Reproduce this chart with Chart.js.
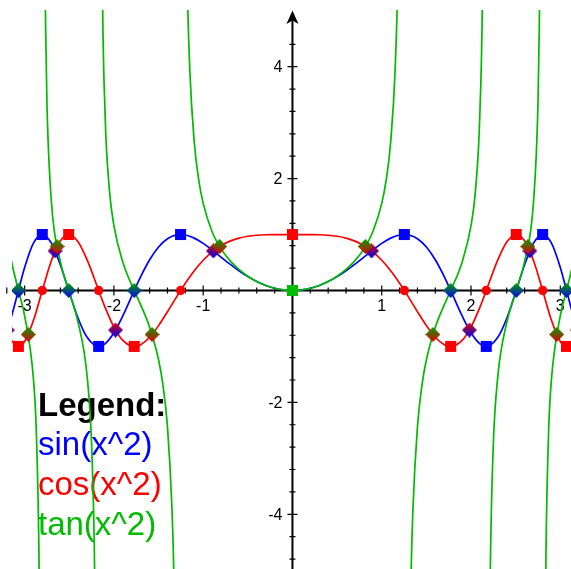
<!DOCTYPE html>
<html>
<head>
<meta charset="utf-8">
<script src="https://cdn.jsdelivr.net/npm/chart.js@4/dist/chart.umd.min.js"></script>
<style>
  html, body { margin: 0; padding: 0; background: #fff; }
  #wrap { width: 571px; height: 569px; }
</style>
</head>
<body>
<div id="wrap"><canvas id="plot" width="571" height="569"></canvas></div>
<script>
// samples shared by sin(x^2) and cos(x^2)
const xs = [
  -3.2, -3.14, -3.07, -3.0, -2.9, -2.8025, -2.7, -2.6, -2.5066, -2.4, -2.3, -2.1708,
  -2.1, -2.0, -1.9, -1.7725, -1.7, -1.6, -1.5, -1.4, -1.3, -1.2533, -1.2, -1.1,
  -1.0, -0.9, -0.8, -0.7, -0.6, -0.5, -0.4, -0.3, -0.2, -0.1, 0,
  0.1, 0.2, 0.3, 0.4, 0.5, 0.6, 0.7, 0.8, 0.9, 1.0,
  1.1, 1.2, 1.2533, 1.3, 1.4, 1.5, 1.6, 1.7, 1.7725, 1.9, 2.0, 2.1,
  2.1708, 2.3, 2.4, 2.5066, 2.6, 2.7, 2.8025, 2.9, 3.0, 3.07, 3.14, 3.2
];
const sinY = [
  -0.7279, -0.4212, 0, 0.4121, 0.8495, 1, 0.8452, 0.459, 0, -0.4998, -0.8378, -1,
  -0.9546, -0.7568, -0.4515, 0, 0.2489, 0.5494, 0.7781, 0.9252, 0.9929, 1, 0.9915, 0.9356,
  0.8415, 0.7243, 0.5972, 0.4706, 0.3523, 0.2474, 0.1593, 0.0899, 0.04, 0.01, 0,
  0.01, 0.04, 0.0899, 0.1593, 0.2474, 0.3523, 0.4706, 0.5972, 0.7243, 0.8415,
  0.9356, 0.9915, 1, 0.9929, 0.9252, 0.7781, 0.5494, 0.2489, 0, -0.4515, -0.7568, -0.9546,
  -1, -0.8378, -0.4998, 0, 0.459, 0.8452, 1, 0.8495, 0.4121, 0, -0.4212, -0.7279
];
const cosY = [
  -0.6857, -0.907, -1, -0.9111, -0.5278, 0, 0.5346, 0.8885, 1, 0.8662, 0.546, 0,
  -0.2978, -0.6536, -0.8923, -1, -0.9685, -0.8356, -0.6282, -0.3795, -0.1189, 0, 0.1304, 0.3531,
  0.5403, 0.6895, 0.8021, 0.8823, 0.9359, 0.9689, 0.9872, 0.996, 0.9992, 1, 1,
  1, 0.9992, 0.996, 0.9872, 0.9689, 0.9359, 0.8823, 0.8021, 0.6895, 0.5403,
  0.3531, 0.1304, 0, -0.1189, -0.3795, -0.6282, -0.8356, -0.9685, -1, -0.8923, -0.6536, -0.2978,
  0, 0.546, 0.8662, 1, 0.8885, 0.5346, 0, -0.5278, -0.9111, -1, -0.907, -0.6857
];

// tan(x^2) samples, null breaks the curve at each asymptote
const tanX = [
  -3.2, -3.16, -3.07, -3.0, -2.9, -2.87, -2.84, -2.83, -2.81,
  -2.78, -2.77, -2.765, -2.75, -2.7, -2.6, -2.5066, -2.4, -2.3, -2.25, -2.22, -2.21, -2.2, -2.19,
  -2.15, -2.13, -2.1, -2.05, -2.0, -1.9, -1.7725, -1.7, -1.6, -1.5, -1.45, -1.4, -1.35, -1.33, -1.3, -1.27,
  -1.2, -1.18, -1.15, -1.1, -1.05, -1.0, -0.9, -0.8, -0.7, -0.6, -0.5, -0.4, -0.3, -0.2, -0.1, 0,
  0.1, 0.2, 0.3, 0.4, 0.5, 0.6, 0.7, 0.8, 0.9, 1.0, 1.05, 1.1, 1.15, 1.18, 1.2,
  1.27, 1.3, 1.33, 1.35, 1.4, 1.45, 1.5, 1.6, 1.7, 1.7725, 1.9, 2.0, 2.05, 2.1, 2.13, 2.15,
  2.19, 2.2, 2.21, 2.22, 2.25, 2.3, 2.4, 2.5066, 2.6, 2.7, 2.75, 2.765, 2.77, 2.78,
  2.81, 2.83, 2.84, 2.87, 2.9, 3.0, 3.07, 3.16, 3.2
];
const tanY = [
  1.0615, 0.6281, 0, -0.4523, -1.6095, -2.483, -4.655, -6.41, null,
  7.92, 5.461, 4.719, 3.332, 1.581, 0.5166, 0, -0.577, -1.5344, -2.739, -4.558, -5.767, -7.79, null,
  11.1, 5.64, 3.2055, 1.788, 1.1578, 0.506, 0, -0.257, -0.6575, -1.2386, -1.7, -2.438, -3.889, -4.982, -8.35, null,
  7.6, 5.546, 3.943, 2.6503, 1.977, 1.5574, 1.0505, 0.7445, 0.5334, 0.3764, 0.2553, 0.1614, 0.0902, 0.04, 0.01, 0,
  0.01, 0.04, 0.0902, 0.1614, 0.2553, 0.3764, 0.5334, 0.7445, 1.0505, 1.5574, 1.977, 2.6503, 3.943, 5.546, 7.6,
  null, -8.35, -4.982, -3.889, -2.438, -1.7, -1.2386, -0.6575, -0.257, 0, 0.506, 1.1578, 1.788, 3.2055, 5.64, 11.1,
  null, -7.79, -5.767, -4.558, -2.739, -1.5344, -0.577, 0, 0.5166, 1.581, 3.332, 4.719, 5.461, 7.92,
  null, -6.41, -4.655, -2.483, -1.6095, -0.4523, 0, 0.6281, 1.0615
];

// marked points
const sinPeakX = [-2.8025, -2.1708, -1.2533, 1.2533, 2.1708, 2.8025];
const sinPeakY = [1, -1, 1, 1, -1, 1];
const cosPeakX = [-3.07, -2.5066, -1.7725, 0, 1.7725, 2.5066, 3.07];
const cosPeakY = [-1, 1, -1, 1, -1, 1, -1];
const cosZeroX = [-2.8025, -2.1708, -1.2533, 1.2533, 2.1708, 2.8025];
const cosZeroY = [0, 0, 0, 0, 0, 0];
const tanMinX = [0];
const tanMinY = [0];
const sinTanX = [-3.07, -2.5066, -1.7725, 1.7725, 2.5066, 3.07];
const sinTanY = [0, 0, 0, 0, 0, 0];
const sinCosX = [-3.1953, -2.6587, -1.9817, -0.8862, 0.8862, 1.9817, 2.6587, 3.1953];
const sinCosY = [-0.7071, 0.7071, -0.7071, 0.7071, 0.7071, -0.7071, 0.7071, -0.7071];
const tanCosX = [-2.9595, -2.6362, -1.5733, -0.8162, 0.8162, 1.5733, 2.6362, 2.9595];
const tanCosY = [-0.7862, 0.7862, -0.7862, 0.7862, 0.7862, -0.7862, 0.7862, -0.7862];

// axis ticks
const xLabels = [-3, -2, -1, 1, 2, 3];
const yLabels = [-4, -2, 2, 4];
const xMinor = 0.2;
const yMinor = 0.4;

const legendTitle = 'Legend:';
const legendNames = ['sin(x^2)', 'cos(x^2)', 'tan(x^2)'];

const BLUE = '#0000ff';
const RED = '#ff0000';
const GREEN = '#00bb00';
const FONT = "'Liberation Sans', Arial, Helvetica, sans-serif";

const pts = (xa, ya) => xa.map((v, i) => ({ x: v, y: ya[i] }));

// small diamond with a top-to-bottom blend of two colours
function diamond(top, bottom) {
  const c = document.createElement('canvas');
  c.width = 15; c.height = 15;
  const g = c.getContext('2d');
  const grad = g.createLinearGradient(0, 0, 0, 15);
  grad.addColorStop(0, top);
  grad.addColorStop(1, bottom);
  g.fillStyle = grad;
  g.beginPath();
  g.moveTo(7.5, 0); g.lineTo(15, 7.5); g.lineTo(7.5, 15); g.lineTo(0, 7.5);
  g.closePath();
  g.fill();
  return c;
}

function curve(label, data, color, order) {
  return {
    label, data, order,
    showLine: true,
    borderColor: color,
    borderWidth: 1.7,
    pointRadius: 0,
    cubicInterpolationMode: 'monotone',
    spanGaps: false
  };
}

function marks(label, data, style, color, radius, order) {
  return {
    label, data, order,
    showLine: false,
    pointStyle: style,
    pointRadius: radius,
    pointHoverRadius: radius,
    pointBackgroundColor: color,
    pointBorderWidth: 0
  };
}

const axesPlugin = {
  id: 'axes',
  beforeDatasetsDraw(chart) {
    const { ctx, chartArea: a, scales: { x, y } } = chart;
    const x0 = x.getPixelForValue(0);
    const y0 = y.getPixelForValue(0);
    ctx.save();
    ctx.strokeStyle = '#000';
    ctx.fillStyle = '#000';

    // axis lines
    ctx.lineWidth = 2;
    ctx.beginPath();
    ctx.moveTo(a.left, y0); ctx.lineTo(a.right, y0);
    ctx.moveTo(x0, a.top + 6); ctx.lineTo(x0, a.bottom);
    ctx.stroke();

    // arrow on the y axis
    ctx.beginPath();
    ctx.moveTo(x0, a.top + 0.5);
    ctx.lineTo(x0 + 6, a.top + 14);
    ctx.lineTo(x0, a.top + 10.5);
    ctx.lineTo(x0 - 6, a.top + 14);
    ctx.closePath();
    ctx.fill();

    // tick marks crossing the axes
    ctx.lineWidth = 1.2;
    ctx.beginPath();
    for (let i = -16; i <= 16; i++) {
      if (i === 0) continue;
      const px = x.getPixelForValue(i * xMinor);
      const len = i % 5 === 0 ? 5 : 3;
      ctx.moveTo(px, y0 - len); ctx.lineTo(px, y0 + len);
    }
    for (let i = -12; i <= 11; i++) {
      if (i === 0) continue;
      const py = y.getPixelForValue(i * yMinor);
      const len = i % 5 === 0 ? 5 : 3;
      ctx.moveTo(x0 - len, py); ctx.lineTo(x0 + len, py);
    }
    ctx.stroke();

    // tick labels
    ctx.font = '16px ' + FONT;
    ctx.textAlign = 'center';
    ctx.textBaseline = 'alphabetic';
    xLabels.forEach(v => ctx.fillText(String(v), x.getPixelForValue(v), y0 + 21));
    ctx.textAlign = 'right';
    ctx.textBaseline = 'middle';
    yLabels.forEach(v => ctx.fillText(String(v), x0 - 10, y.getPixelForValue(v) + 1));

    // legend block
    ctx.textAlign = 'left';
    ctx.textBaseline = 'alphabetic';
    ctx.font = 'bold 33px ' + FONT;
    ctx.fillText(legendTitle, 38, 416);
    ctx.font = '33px ' + FONT;
    const colors = [BLUE, RED, GREEN];
    const base = [455, 495, 535];
    legendNames.forEach((name, i) => {
      ctx.fillStyle = colors[i];
      ctx.fillText(name, 38, base[i]);
    });
    ctx.restore();
  }
};

new Chart(document.getElementById('plot'), {
  type: 'scatter',
  data: {
    datasets: [
      curve('sin(x^2)', pts(xs, sinY), BLUE, 30),
      curve('cos(x^2)', pts(xs, cosY), RED, 29),
      curve('tan(x^2)', pts(tanX, tanY), GREEN, 28),
      marks('sin extrema', pts(sinPeakX, sinPeakY), 'rect', BLUE, 7.8, 20),
      marks('cos extrema', pts(cosPeakX, cosPeakY), 'rect', RED, 7.8, 19),
      marks('cos zeros', pts(cosZeroX, cosZeroY), 'circle', RED, 4.7, 18),
      marks('tan minimum', pts(tanMinX, tanMinY), 'rect', GREEN, 7.8, 17),
      marks('sin = tan', pts(sinTanX, sinTanY), diamond('#00a000', '#0000ee'), '#006080', 7.5, 16),
      marks('sin = cos', pts(sinCosX, sinCosY), diamond('#e00000', '#0000ee'), '#800080', 7.5, 15),
      marks('tan = cos', pts(tanCosX, tanCosY), diamond('#00a000', '#e00000'), '#805000', 7.5, 14)
    ]
  },
  options: {
    responsive: false,
    animation: false,
    layout: { autoPadding: false, padding: { left: 12, top: 10, right: 0, bottom: 0 } },
    plugins: { legend: { display: false }, tooltip: { enabled: false } },
    events: [],
    scales: {
      x: { type: 'linear', min: -3.1416, max: 3.12, display: false },
      y: { type: 'linear', min: -4.978, max: 5.013, display: false }
    }
  },
  plugins: [axesPlugin]
});
</script>
</body>
</html>
